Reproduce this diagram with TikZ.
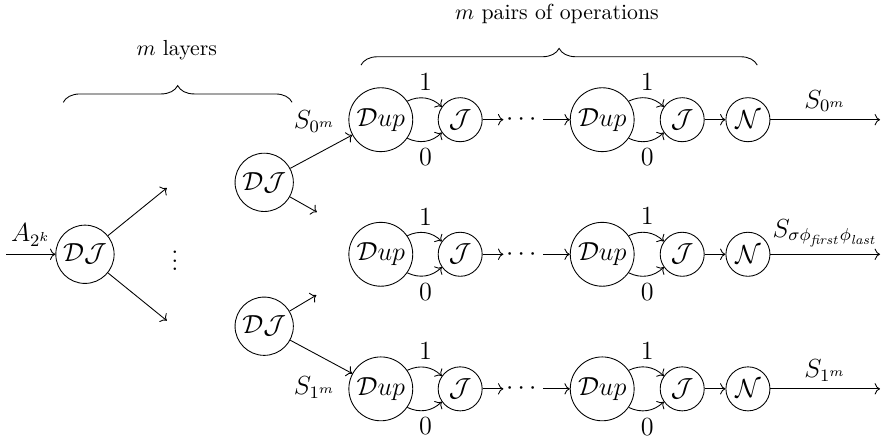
\documentclass[tikz,border=0pt]{standalone}
\usepackage{amsmath}
\usetikzlibrary{arrows.meta,positioning,decorations.pathreplacing}

\begin{document}
\begin{tikzpicture}[>=To,
  op/.style={circle,draw,inner sep=1pt,font=\large},
  dupbox/.style={op,minimum size=1.03cm},
  smallbox/.style={op,minimum size=0.71cm},
  djbox/.style={op,minimum size=0.94cm},
  lbl/.style={font=\large},
  brace/.style={decorate,decoration={brace,amplitude=0.27cm}}]
\useasboundingbox (-1.37,-2.97) rectangle (12.9,4.1);

% splitting into 2^m streams
\coordinate (in) at (-1.27,0);
\node[djbox] (dj) at (0,0) {$\mathcal{DJ}$};
\draw[->] (in) -- node[lbl,above] {$A_{2^k}$} (dj);
\coordinate (up) at (1.32,1.07);
\coordinate (down) at (1.32,-1.07);
\draw[->] (dj) -- (up);
\draw[->] (dj) -- (down);
\node[lbl] (vdots) at (1.45,0) {$\vdots$};
\node[djbox] (djt) at (2.89,1.16) {$\mathcal{DJ}$};
\node[djbox] (djb) at (2.89,-1.16) {$\mathcal{DJ}$};
\coordinate (tstub) at (3.74,0.68);
\coordinate (bstub) at (3.73,-0.66);
\draw[->] (djt) -- (tstub);
\draw[->] (djb) -- (bstub);

% one row of operations per stream
\foreach \r/\y/\lab in {t/2.17/{S_{0^m}},
    m/0/{S_{\sigma\phi_{\mathit{first}}\phi_{\mathit{last}}}},
    b/-2.17/{S_{1^m}}} {
  \node[dupbox] (dupa\r) at (4.77,\y) {$\mathcal{D}up$};
  \node[smallbox] (ja\r) at (6.05,\y) {$\mathcal{J}$};
  \node[lbl,inner sep=1pt] (dots\r) at (7.07,\y) {$\cdots$};
  \node[dupbox] (dupb\r) at (8.34,\y) {$\mathcal{D}up$};
  \node[smallbox] (jb\r) at (9.63,\y) {$\mathcal{J}$};
  \node[smallbox] (n\r) at (10.69,\y) {$\mathcal{N}$};
  \coordinate (out\r) at (12.82,\y);
  \draw[->] (dupa\r) to[bend left=35] node[lbl,above] {$1$} (ja\r);
  \draw[->] (dupa\r) to[bend right=35] node[lbl,below] {$0$} (ja\r);
  \draw[->] (ja\r) -- (dots\r);
  \draw[->] (dots\r) -- (dupb\r);
  \draw[->] (dupb\r) to[bend left=35] node[lbl,above] {$1$} (jb\r);
  \draw[->] (dupb\r) to[bend right=35] node[lbl,below] {$0$} (jb\r);
  \draw[->] (jb\r) -- (n\r);
  \draw[->] (n\r) -- node[lbl,above] {$\lab$} (out\r);
}

\draw[->] (djt) -- node[lbl,pos=0.85,above left] {$S_{0^m}$} (dupat);
\draw[->] (djb) -- node[lbl,pos=0.85,below left] {$S_{1^m}$} (dupab);

% braces
\coordinate (la) at (-0.35,2.45);
\coordinate (lb) at (3.34,2.45);
\draw[brace] (la) -- (lb);
\node (layers) at (1.48,3.29) {$m$ layers};
\coordinate (pa) at (4.45,3.05);
\coordinate (pb) at (10.84,3.05);
\draw[brace] (pa) -- (pb);
\node (pairs) at (7.61,3.87) {$m$ pairs of operations};
\end{tikzpicture}
\end{document}
